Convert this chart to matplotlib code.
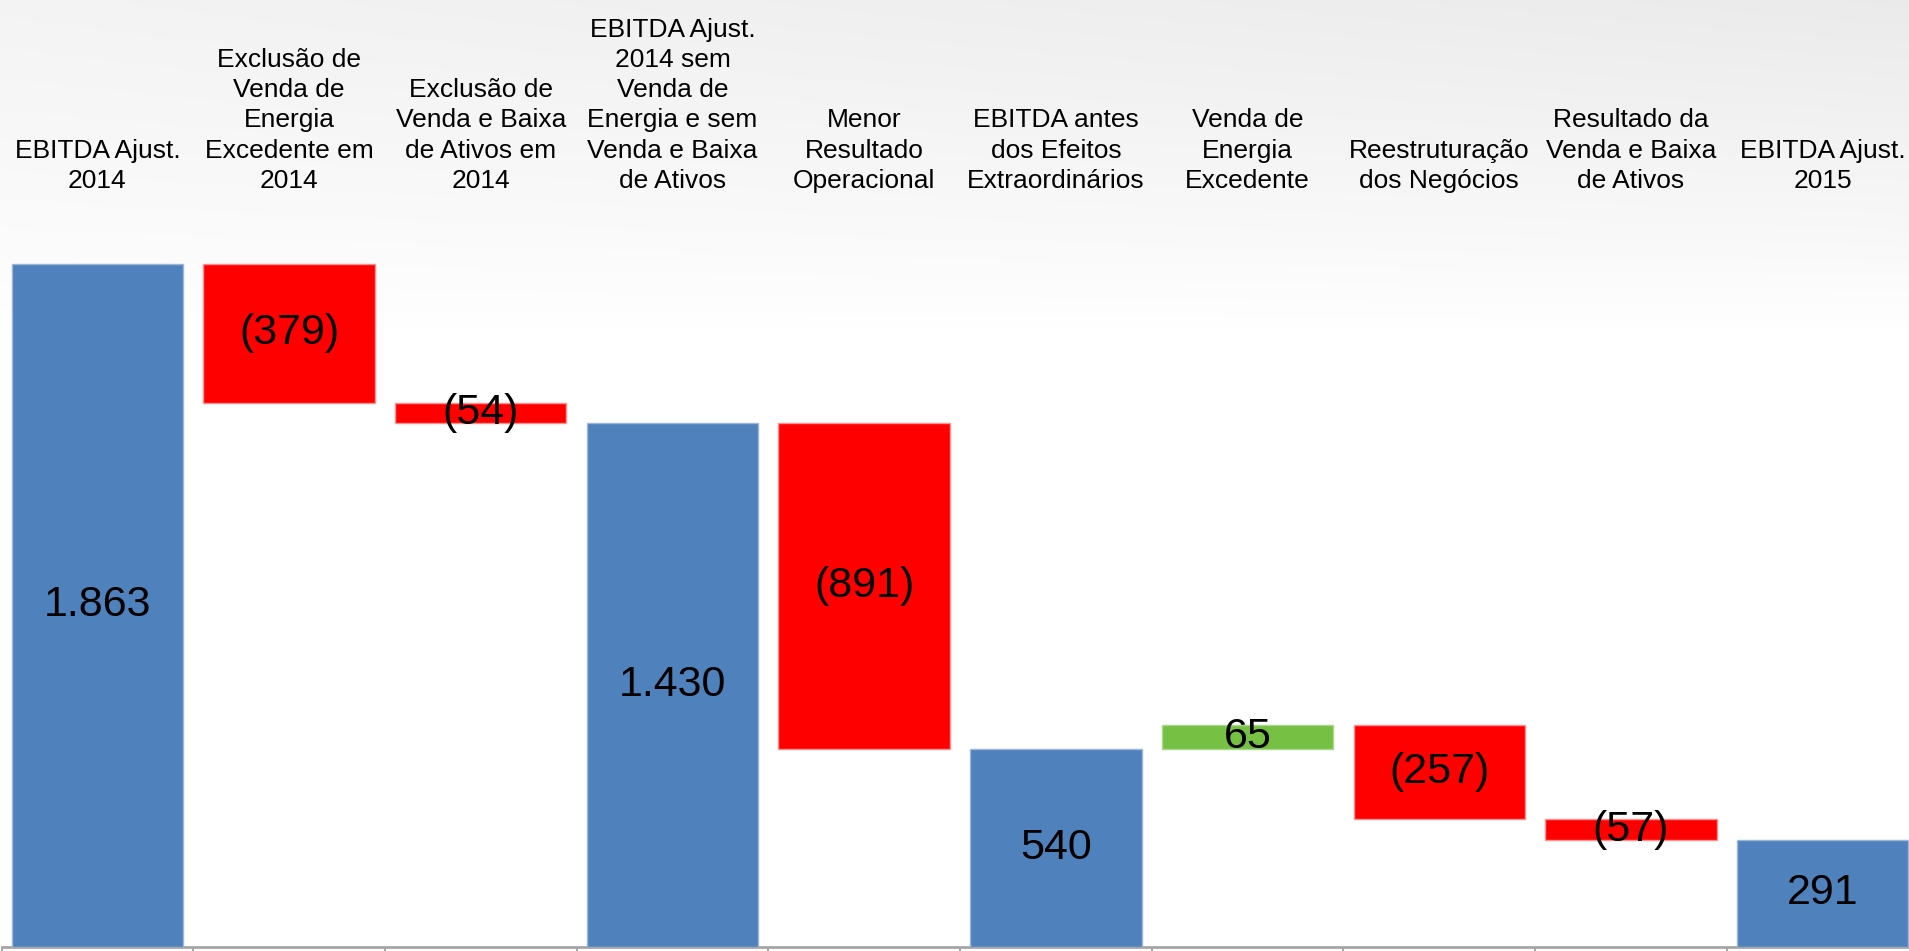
import numpy as np
import matplotlib
matplotlib.use("Agg")
import matplotlib.pyplot as plt
import matplotlib.transforms as mtransforms

plt.rcParams['font.family'] = ['Liberation Sans', 'DejaVu Sans']

# ---- data ----
categories = [
    "EBITDA Ajust.\n2014",
    "Exclusão de\nVenda de\nEnergia\nExcedente em\n2014",
    "Exclusão de\nVenda e Baixa\nde Ativos em\n2014",
    "EBITDA Ajust.\n2014 sem\nVenda de\nEnergia e sem\nVenda e Baixa\nde Ativos",
    "Menor\nResultado\nOperacional",
    "EBITDA antes\ndos Efeitos\nExtraordinários",
    "Venda de\nEnergia\nExcedente",
    "Reestruturação\ndos Negócios",
    "Resultado da\nVenda e Baixa\nde Ativos",
    "EBITDA Ajust.\n2015",
]
values = [1863, -379, -54, 1430, -891, 540, 65, -257, -57, 291]
is_total = [True, False, False, True, False, True, False, False, False, True]
value_labels = ["1.863", "(379)", "(54)", "1.430", "(891)", "540", "65", "(257)", "(57)", "291"]

# ---- colours ----
c_total = "#4F81BD"
c_neg = "#FF0000"
c_pos = "#76C043"
e_total = "#9DB5D8"
e_neg = "#FF9090"
e_pos = "#A8D88A"

W, H = 1909, 951
fig = plt.figure(figsize=(W / 100, H / 100), dpi=100)
fig.patch.set_facecolor("white")

# subtle slide background gradient
bg = fig.add_axes([0, 0, 1, 1], zorder=-10)
yy, xx = np.mgrid[0:H, 0:W]
fade = np.clip(1 - yy / 330.0, 0, 1) ** 0.9
shade = 1 - fade * (0.045 + 0.035 * (xx / W))
bg.imshow(np.dstack([shade] * 3), aspect="auto", extent=[0, 1, 0, 1],
          interpolation="bilinear")
bg.set_axis_off()

# main axes
base_px = 946.7
px_per_unit = 0.3665
cat_w = 191.7
left_px = 1.5
ax = fig.add_axes([left_px / W, (H - base_px) / H,
                   len(values) * cat_w / W, base_px / H])
ax.set_facecolor("none")
ax.set_xlim(-0.5, len(values) - 0.5)
ax.set_ylim(0, base_px / px_per_unit)

# waterfall geometry
bottoms, heights, colors, edges = [], [], [], []
running = 0
for v, tot in zip(values, is_total):
    if tot:
        bottoms.append(0)
        heights.append(v)
        colors.append(c_total)
        edges.append(e_total)
        running = v
    else:
        if v < 0:
            bottoms.append(running + v)
            heights.append(-v)
            colors.append(c_neg)
            edges.append(e_neg)
        else:
            bottoms.append(running)
            heights.append(v)
            colors.append(c_pos)
            edges.append(e_pos)
        running = running + v

x = np.arange(len(values))
ax.bar(x, heights, bottom=bottoms, width=0.894, color=colors,
       edgecolor=edges, linewidth=1.0, zorder=3)

for xi, b, h, lab in zip(x, bottoms, heights, value_labels):
    ax.text(xi, b + h / 2, lab, ha="center", va="center",
            fontsize=31, color="black", zorder=5)

# category labels at the top
trans = mtransforms.blended_transform_factory(ax.transData, fig.transFigure)
for xi, cat in zip(x, categories):
    ax.text(xi, 1 - 193 / H, cat, transform=trans, ha="center", va="bottom",
            fontsize=19, color="black", linespacing=1.33)

# axis styling
for s in ["top", "right", "left"]:
    ax.spines[s].set_visible(False)
ax.spines["bottom"].set_color("#A6A6A6")
ax.spines["bottom"].set_linewidth(2)
ax.set_yticks([])
ax.set_xticks(np.arange(-0.5, len(values), 1.0))
ax.set_xticklabels([])
ax.tick_params(axis="x", direction="out", length=6, width=1.5,
               color="#A6A6A6")

fig.savefig("out.png", dpi=100, facecolor=fig.get_facecolor())
